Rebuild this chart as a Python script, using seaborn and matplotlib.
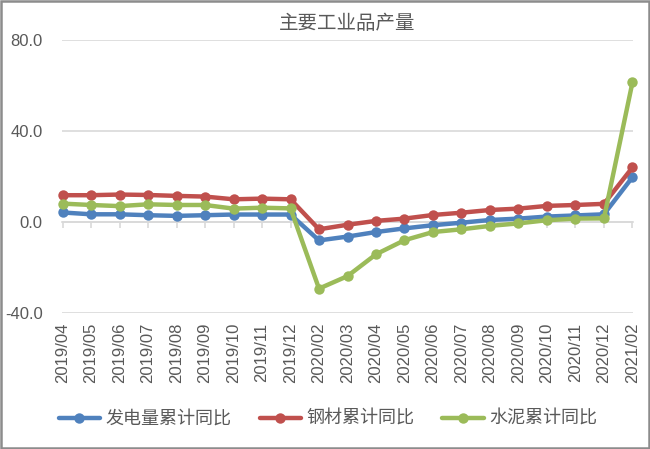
import matplotlib
matplotlib.use("Agg")
import matplotlib.pyplot as plt
import seaborn as sns
import pandas as pd
from matplotlib.patches import Rectangle

categories = ["2019/04", "2019/05", "2019/06", "2019/07", "2019/08", "2019/09",
              "2019/10", "2019/11", "2019/12", "2020/02", "2020/03", "2020/04",
              "2020/05", "2020/06", "2020/07", "2020/08", "2020/09", "2020/10",
              "2020/11", "2020/12", "2021/02"]
power = [4.1, 3.3, 3.3, 2.9, 2.6, 2.9, 3.2, 3.2, 3.2, -8.2, -6.5, -4.5,
         -2.9, -1.5, -0.4, 0.8, 1.4, 2.3, 2.8, 3.3, 19.6]
steel = [11.7, 11.7, 12.0, 11.8, 11.4, 11.1, 9.9, 10.2, 9.9, -3.3, -1.3, 0.4,
         1.4, 3.0, 4.0, 5.2, 5.8, 7.0, 7.4, 7.9, 23.9]
cement = [8.0, 7.4, 6.9, 7.7, 7.4, 7.4, 5.8, 6.2, 5.9, -29.4, -23.9, -14.3,
          -8.1, -4.5, -3.3, -1.8, -0.7, 0.7, 1.4, 1.5, 61.3]
series_names = ["发电量累计同比", "钢材累计同比", "水泥累计同比"]
yticks = [-40, 0, 40, 80]
title = "主要工业品产量"

sns.set_theme(style="white")
plt.rcParams["font.family"] = ["Liberation Sans", "Noto Sans CJK SC", "DejaVu Sans"]

rows = []
for name, vals in zip(series_names, [power, steel, cement]):
    for i, (c, v) in enumerate(zip(categories, vals)):
        rows.append({"idx": i, "cat": c, "value": v, "series": name})
df = pd.DataFrame(rows)

colors = ["#4F81BD", "#C0504D", "#9BBB59"]
fig = plt.figure(figsize=(6.5, 4.49), dpi=100)
ax = fig.add_axes([62 / 650, 1 - 312.7 / 449, (633 - 62) / 650, (312.7 - 40) / 449])

sns.lineplot(data=df, x="idx", y="value", hue="series", hue_order=series_names,
             palette=colors, marker="o", markersize=7.5, linewidth=3.2,
             markeredgewidth=0, ax=ax, legend=True, clip_on=False, zorder=3)

ax.set_xlim(-0.02, len(categories) - 1 + 0.02)
ax.set_ylim(-40, 80)
ax.set_yticks(yticks)
ax.set_yticklabels([f"{t:.1f}" for t in yticks], fontsize=12, color="#595959")
ax.set_xticks(range(len(categories)))
ax.set_xticklabels(categories, rotation=90, fontsize=12, color="#595959")
ax.tick_params(axis="x", length=0, pad=7)
ax.tick_params(axis="y", length=0, pad=14)
ax.grid(axis="y", color="#D9D9D9", linewidth=1.2)
ax.set_axisbelow(True)
for s in ax.spines.values():
    s.set_visible(False)
ax.set_xlabel("")
ax.set_ylabel("")

# zero axis line with tick marks
sec = ax.secondary_xaxis(40 / 120)
sec.set_xticks(range(len(categories)))
sec.set_xticklabels([])
sec.tick_params(axis="x", direction="out", length=4, color="#D9D9D9", width=1.2)
sec.spines["bottom"].set_color("#D9D9D9")
sec.spines["bottom"].set_linewidth(1.2)

ax.set_title(title, fontsize=14, color="#595959", pad=8,
             family=["Noto Sans CJK SC", "DejaVu Sans"], fontweight="light")

handles, labels = ax.get_legend_handles_labels()
ax.get_legend().remove()
leg = fig.legend(handles, labels, loc="center", bbox_to_anchor=(328 / 650, 1 - 419 / 449),
                 ncol=3, frameon=False, handlelength=2.3, handletextpad=0.3,
                 columnspacing=1.55,
                 prop={"family": ["Noto Sans CJK SC", "DejaVu Sans"], "size": 13})
for t in leg.get_texts():
    t.set_color("#595959")

fig.patches.append(Rectangle((0.0015, 0.002), 0.997, 0.996, transform=fig.transFigure,
                             fill=False, edgecolor="#8C8C8C", linewidth=1.8))

fig.savefig("out.png", dpi=100)
